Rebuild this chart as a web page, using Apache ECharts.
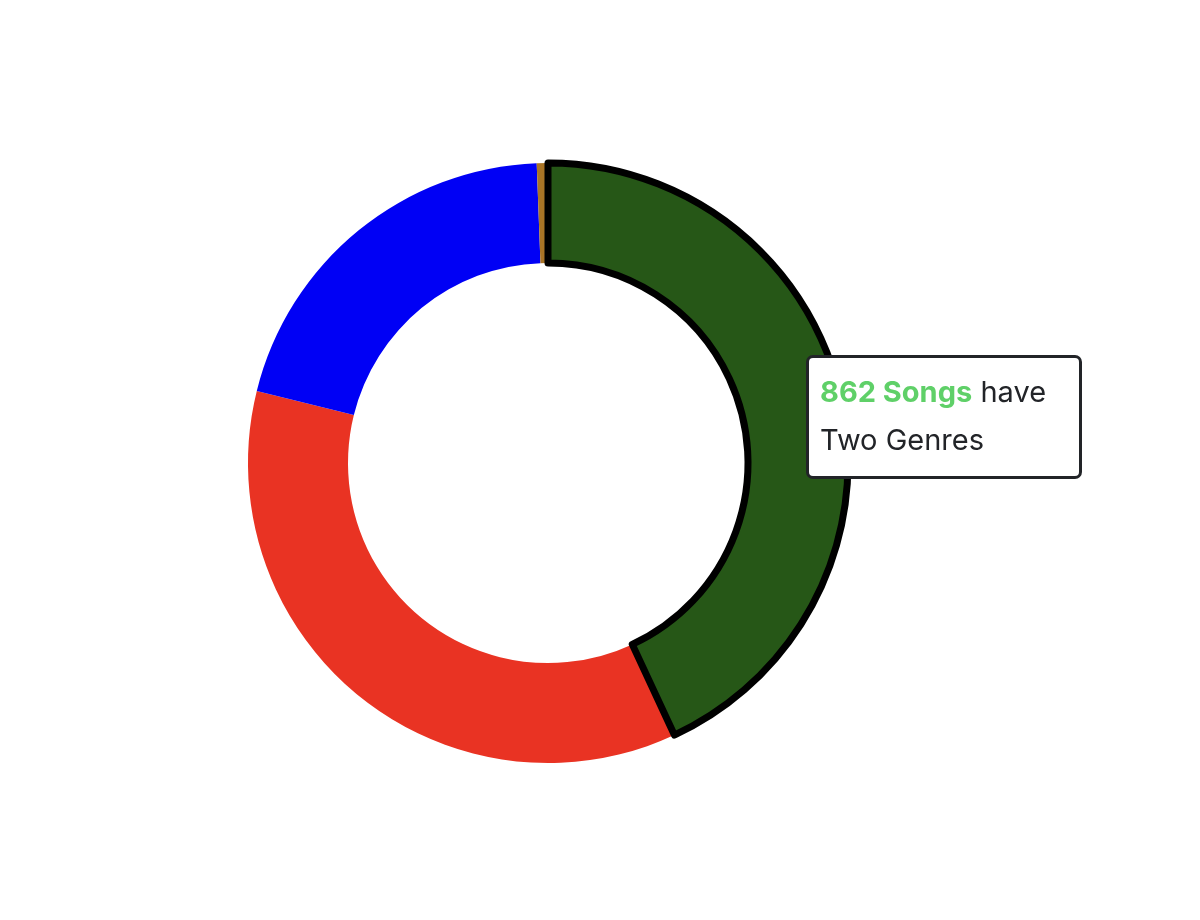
<!DOCTYPE html>
<html>
<head>
<meta charset="utf-8">
<script src="https://cdn.jsdelivr.net/npm/echarts@6/dist/echarts.min.js"></script>
<style>
  html, body { margin: 0; padding: 0; background: #fff; }
  #main { width: 1200px; height: 920px; }
</style>
</head>
<body>
<div id="main"></div>
<script>
// 数据
var genreNames = ['Two Genres', 'One Genre', 'Three Genres', 'Four Genres'];
var songCounts = [862, 716, 411, 12];
var sliceColors = ['#265717', '#e93323', '#0000f5', '#a97426'];

var myChart = echarts.init(document.getElementById('main'));

var pieData = [];
var topData = [];
for (var i = 0; i < genreNames.length; i++) {
    pieData.push({
        value: songCounts[i],
        name: genreNames[i],
        itemStyle: { color: sliceColors[i] }
    });
    // 上层只画高亮那一块(黑边)
    topData.push({
        value: songCounts[i],
        name: genreNames[i],
        itemStyle: i === 0
            ? { color: sliceColors[i], borderColor: '#000', borderWidth: 7 }
            : { color: 'rgba(0,0,0,0)' }
    });
}

var option = {
    animation: false,
    tooltip: {
        trigger: 'item',
        alwaysShowContent: true,
        position: [806, 355],
        backgroundColor: '#fff',
        borderColor: '#222428',
        borderWidth: 3,
        padding: [10, 11, 12, 11],
        extraCssText: 'box-shadow:none;border-radius:7px;width:248px;',
        textStyle: { fontFamily: 'Inter', fontSize: 29, color: '#222428' },
        formatter: function (p) {
            return '<div style="font-family:Inter;font-size:29px;line-height:48px;color:#222428;white-space:nowrap;">'
                + '<span style="color:#5fd068;font-weight:700;">' + p.value + ' Songs</span> have<br/>'
                + p.name + '</div>';
        }
    },
    series: [
        {
            name: 'genres',
            type: 'pie',
            center: [548, 463],
            radius: [200, 300],
            startAngle: 90,
            silent: true,
            label: { show: false },
            labelLine: { show: false },
            data: pieData
        },
        {
            name: 'highlight',
            type: 'pie',
            center: [548, 463],
            radius: [200, 300],
            startAngle: 90,
            label: { show: false },
            labelLine: { show: false },
            emphasis: { scale: false, focus: 'none' },
            data: topData
        }
    ]
};
myChart.setOption(option);

myChart.dispatchAction({ type: 'showTip', seriesIndex: 1, dataIndex: 0 });
</script>
</body>
</html>
